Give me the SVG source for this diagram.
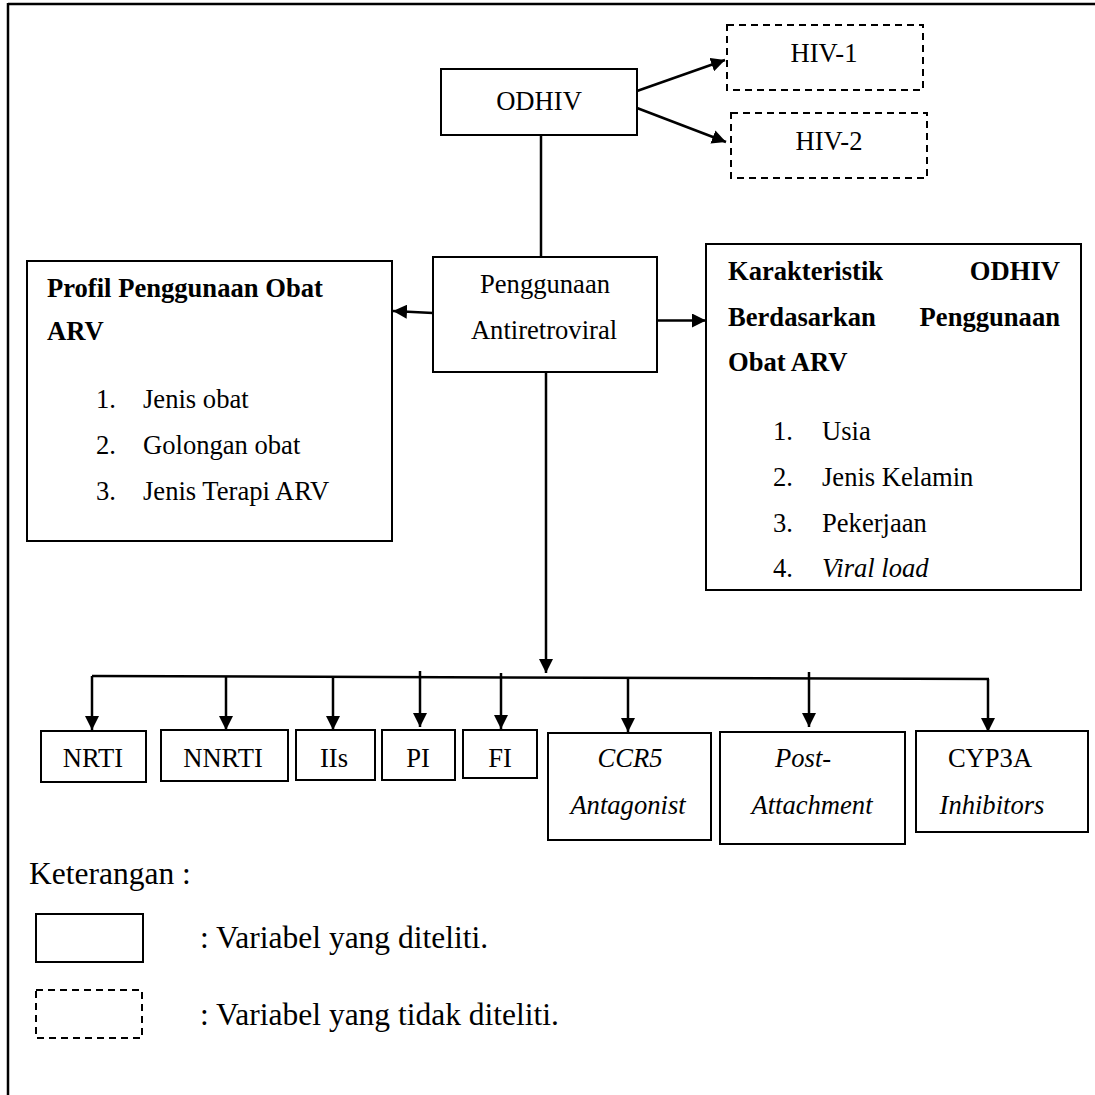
<svg xmlns="http://www.w3.org/2000/svg" width="1095" height="1095" viewBox="0 0 1095 1095">
<defs>
<style>
text{font-family:"Liberation Serif","Times New Roman",serif;font-size:26.6px;fill:#000}
.b{font-weight:bold}
.i{font-style:italic}
.m{text-anchor:middle}
.e{text-anchor:end}
.lg{font-size:31.5px}
.box{fill:#fff;stroke:#000;stroke-width:2}
.dash{fill:#fff;stroke:#000;stroke-width:2;stroke-dasharray:7 5}
.ln{stroke:#000;stroke-width:2.5;fill:none}
</style>
<marker id="ah" viewBox="0 0 10 10" refX="10" refY="5" markerWidth="14" markerHeight="14" markerUnits="userSpaceOnUse" orient="auto">
<path d="M0,0 L10,5 L0,10 Z" fill="#000"/>
</marker>
</defs>
<rect width="1095" height="1095" fill="#fff"/>
<g id="frame">
<line x1="8" y1="4" x2="1095" y2="4" stroke="#000" stroke-width="2.5"/>
<line x1="8" y1="3" x2="8" y2="1095" stroke="#000" stroke-width="2.5"/>
</g>
<g id="connectors">
<line class="ln" x1="637" y1="91" x2="725" y2="60" marker-end="url(#ah)"/>
<line class="ln" x1="637" y1="108" x2="726" y2="142" marker-end="url(#ah)"/>
<line class="ln" x1="541" y1="135" x2="541" y2="257"/>
<line class="ln" x1="433" y1="313" x2="393" y2="311" marker-end="url(#ah)"/>
<line class="ln" x1="657" y1="320.5" x2="706" y2="320.5" marker-end="url(#ah)"/>
<line class="ln" x1="546" y1="372" x2="546" y2="673" marker-end="url(#ah)"/>
<line class="ln" x1="92" y1="676" x2="989" y2="679"/>
<line class="ln" x1="92" y1="676" x2="92" y2="730" marker-end="url(#ah)"/>
<line class="ln" x1="226" y1="676" x2="226" y2="730" marker-end="url(#ah)"/>
<line class="ln" x1="333" y1="676" x2="333" y2="730" marker-end="url(#ah)"/>
<line class="ln" x1="420" y1="671" x2="420" y2="727" marker-end="url(#ah)"/>
<line class="ln" x1="501" y1="673" x2="501" y2="729" marker-end="url(#ah)"/>
<line class="ln" x1="628" y1="677" x2="628" y2="732" marker-end="url(#ah)"/>
<line class="ln" x1="809" y1="672" x2="809" y2="727" marker-end="url(#ah)"/>
<line class="ln" x1="988" y1="679" x2="988" y2="732" marker-end="url(#ah)"/>
</g>
<g id="odhiv">
<rect class="box" x="441" y="69" width="196" height="66"/>
<text class="m" x="539" y="110">ODHIV</text>
</g>
<g id="hiv1">
<rect class="dash" x="727" y="25" width="196" height="65"/>
<text class="m" x="824" y="62">HIV-1</text>
</g>
<g id="hiv2">
<rect class="dash" x="731" y="113" width="196" height="65"/>
<text class="m" x="829" y="150">HIV-2</text>
</g>
<g id="penggunaan">
<rect class="box" x="433" y="257" width="224" height="115"/>
<text class="m" x="545" y="293">Penggunaan</text>
<text class="m" x="544" y="339">Antiretroviral</text>
</g>
<g id="profil">
<rect class="box" x="27" y="261" width="365" height="280"/>
<text class="b" x="47" y="297">Profil Penggunaan Obat</text>
<text class="b" x="47" y="340">ARV</text>
<text x="96" y="408">1.</text><text x="143" y="408">Jenis obat</text>
<text x="96" y="454">2.</text><text x="143" y="454">Golongan obat</text>
<text x="96" y="500">3.</text><text x="143" y="500">Jenis Terapi ARV</text>
</g>
<g id="karakteristik">
<rect class="box" x="706" y="244" width="375" height="346"/>
<text class="b" x="728" y="280">Karakteristik</text>
<text class="b e" x="1060" y="280">ODHIV</text>
<text class="b" x="728" y="326">Berdasarkan</text>
<text class="b e" x="1060" y="326">Penggunaan</text>
<text class="b" x="728" y="371">Obat ARV</text>
<text x="773" y="440">1.</text><text x="822" y="440">Usia</text>
<text x="773" y="486">2.</text><text x="822" y="486">Jenis Kelamin</text>
<text x="773" y="532">3.</text><text x="822" y="532">Pekerjaan</text>
<text x="773" y="577">4.</text><text class="i" x="822" y="577">Viral load</text>
</g>
<g id="nrti">
<rect class="box" x="41" y="731" width="105" height="51"/>
<text class="m" x="93" y="767">NRTI</text>
</g>
<g id="nnrti">
<rect class="box" x="161" y="730" width="127" height="51"/>
<text class="m" x="223" y="767">NNRTI</text>
</g>
<g id="iis">
<rect class="box" x="296" y="730" width="79" height="50"/>
<text class="m" x="334" y="767">IIs</text>
</g>
<g id="pi">
<rect class="box" x="382" y="730" width="73" height="50"/>
<text class="m" x="418" y="767">PI</text>
</g>
<g id="fi">
<rect class="box" x="463" y="730" width="74" height="48"/>
<text class="m" x="500" y="767">FI</text>
</g>
<g id="ccr5">
<rect class="box" x="548" y="733" width="163" height="107"/>
<text class="m i" x="630" y="767">CCR5</text>
<text class="m i" x="628" y="814">Antagonist</text>
</g>
<g id="post">
<rect class="box" x="720" y="732" width="185" height="112"/>
<text class="i" x="775" y="767">Post-</text>
<text class="m i" x="812" y="814">Attachment</text>
</g>
<g id="cyp3a">
<rect class="box" x="916" y="731" width="172" height="101"/>
<text class="m" x="990" y="767">CYP3A</text>
<text class="m i" x="992" y="814">Inhibitors</text>
</g>
<g id="legend">
<text class="lg" x="29" y="884">Keterangan :</text>
<rect class="box" x="36" y="914" width="107" height="48"/>
<text class="lg" x="200" y="948">: Variabel yang diteliti.</text>
<rect class="dash" x="36" y="990" width="106" height="48"/>
<text class="lg" x="200" y="1025">: Variabel yang tidak diteliti.</text>
</g>
</svg>
